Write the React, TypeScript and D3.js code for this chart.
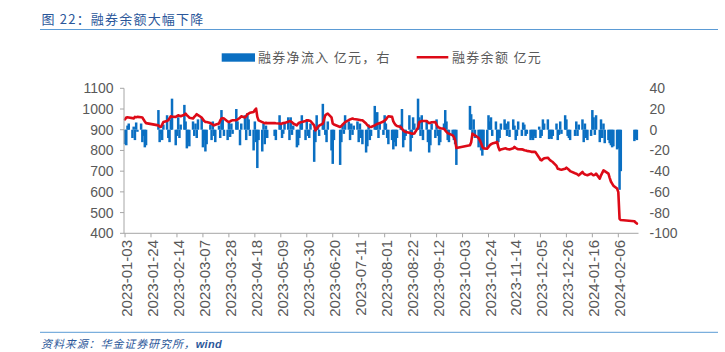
import React from "react";
import * as d3 from "d3";

// 融券净流入（亿元，右轴）— one value per trading day
const netFlow: number[] = [
  // 2023-01
  -14, -15, 4, 6, -8, 3, -10, 7, -2, 6, -12, -6, -17, -15, 19, -12,
  // 2023-02
  -4, -10, 5, 14, -8, -12, 10, 30, -15, -6, 12, -8, 5, 24, 8, -18, -12, -16, 8, -6,
  // 2023-03
  6, -8, 10, 12, -17, -10, -21, -14, 5, -10, 8, -6, -12, 4, -8, 19, 10, -6, -10, 8, -7, 6, -4,
  // 2023-04
  20, 8, -15, 6, 14, -10, 16, 10, -6, -20, 8, -12, -37, -10, -21, 6, -14, 4, -8,
  // 2023-05
  -6, -10, 14, 5, -8, -4, 6, 12, -10, 12, -5, 4, -17, -15, -8, 6, 14, -10, 9, -6,
  // 2023-06
  -8, 6, -31, -12, 14, 4, -6, 25, 10, -5, -12, 8, -20, -33, -10, -34, -12, 5, -4, 14,
  // 2023-07
  8, -10, 6, -5, 4, 8, -12, 6, -8, -14, -22, -16, 5, -10, -6, 23, 10, 17, -8, 6, -5,
  // 2023-08
  14, 6, -8, -14, -10, -19, -12, -16, -8, 5, 20, -17, -10, -6, 14, -21, -8, 12, 6, 30, 12, -6, 14,
  // 2023-09
  -10, 8, -12, -22, -15, 6, -8, 10, -6, -15, -12, 6, 19, 8, -10, -12, -6, -10, -14, -34,
  // 2023-10
  23, 15, -6, 10, -8, -17, -12, -20, -25, -18, -17, 14, 8, 12, -6, 8, -14,
  // 2023-11
  -12, -8, 6, 10, 6, -6, 8, -7, 10, 4, -10, -6, 8, -6, 7, 5, -6, -4, -10, -8, -10, -6,
  // 2023-12
  -8, 3, -8, -6, 10, 6, 10, -9, -8, -9, -6, 6, -10, -5, 8, -4, 14, 10, -6, -8, -10,
  // 2024-01
  -6, 8, -6, 5, 10, -12, 6, -8, -10, -6, 19, 12, -5, 14, -12, 10, -8, 6, -13, -10, -13, -15,
  // 2024-02
  -17, -16, -19, -18, -58, -40, -11, -9, -10,
];

// 融券余额（亿元，左轴）— one value per trading day
const balance: number[] = [
  // 2023-01
  950, 959, 960, 959, 956, 954, 962, 960, 962, 960, 959, 949, 940, 932, 921, 915,
  // 2023-02
  913, 925, 937, 942, 946, 955, 965, 963, 962, 966, 970, 967, 965, 972, 978, 970, 965, 958, 954, 962,
  // 2023-03
  968, 975, 970, 959, 950, 942, 938, 937, 932, 928, 925, 921, 924, 930, 945, 954, 956, 954, 940, 937, 940, 944, 946,
  // 2023-04
  946, 949, 958, 965, 959, 966, 975, 978, 982, 986, 995, 1002, 962, 945, 937, 934, 932, 933, 932,
  // 2023-05
  932, 931, 930, 928, 930, 932, 933, 938, 942, 940, 937, 930, 921, 930, 934, 936, 937, 942, 946, 945,
  // 2023-06
  944, 942, 921, 897, 905, 913, 920, 930, 950, 970, 975, 978, 960, 930, 925, 913, 918, 925, 930, 937,
  // 2023-07
  946, 950, 952, 954, 952, 949, 948, 947, 946, 946, 930, 922, 918, 913, 913, 921, 925, 928, 930, 932, 940,
  // 2023-08
  945, 949, 958, 965, 962, 940, 930, 922, 918, 913, 905, 897, 892, 889, 885, 883, 881, 881, 882, 910, 937, 940, 942,
  // 2023-09
  942, 942, 936, 932, 934, 936, 937, 925, 913, 910, 907, 905, 897, 890, 884, 881, 873, 865, 850, 812,
  // 2023-10
  825, 840, 881, 876, 873, 860, 849, 835, 818, 810, 809, 817, 825, 830, 833, 838, 841,
  // 2023-11
  815, 801, 805, 809, 810, 807, 806, 805, 810, 817, 812, 808, 806, 805, 804, 801, 800, 798, 795, 793, 794, 793,
  // 2023-12
  792, 765, 755, 752, 758, 762, 765, 758, 752, 748, 744, 725, 712, 710, 708, 707, 712, 717, 712, 707, 700,
  // 2024-01
  690, 688, 684, 680, 696, 688, 684, 682, 680, 688, 684, 680, 682, 688, 664, 680, 692, 704, 700, 688, 668, 650,
  // 2024-02
  640, 630, 616, 599, 470, 464, 458, 452, 447,
];

// market holidays (non-trading weekdays)
const holidays: string[] = [
  "2023-01-23", "2023-01-24", "2023-01-25", "2023-01-26", "2023-01-27",
  "2023-04-05", "2023-05-01", "2023-05-02", "2023-05-03",
  "2023-06-22", "2023-06-23", "2023-09-29",
  "2023-10-02", "2023-10-03", "2023-10-04", "2023-10-05", "2023-10-06",
  "2024-01-01", "2024-02-09", "2024-02-12", "2024-02-13", "2024-02-14", "2024-02-15", "2024-02-16",
];

const tickLabels: string[] = [
  "2023-01-03", "2023-01-24", "2023-02-14", "2023-03-07", "2023-03-28", "2023-04-18",
  "2023-05-09", "2023-05-30", "2023-06-20", "2023-07-11", "2023-08-01", "2023-08-22",
  "2023-09-12", "2023-10-03", "2023-10-24", "2023-11-14", "2023-12-05", "2023-12-26",
  "2024-01-16", "2024-02-06",
];

const leftTicks = [400, 500, 600, 700, 800, 900, 1000, 1100];
const rightTicks = [-100, -80, -60, -40, -20, 0, 20, 40];

const parse = d3.utcParse("%Y-%m-%d");
const fmt = d3.utcFormat("%Y-%m-%d");

function tradingDays(start: string, end: string): Date[] {
  const hs = new Set(holidays);
  const days = d3.utcDay.range(parse(start)!, d3.utcDay.offset(parse(end)!, 1));
  return days.filter((d) => {
    const w = d.getUTCDay();
    return w !== 0 && w !== 6 && !hs.has(fmt(d));
  });
}

const W = 725;
const H = 352;
const FONT = "'Liberation Sans', Arial, sans-serif";
const CJK = "'Noto Sans CJK SC', 'Liberation Sans', sans-serif";

export default function App() {
  const dates = tradingDays("2023-01-03", "2024-02-21");
  const n = Math.min(dates.length, netFlow.length, balance.length);
  const data = d3.range(n).map((i) => ({ date: dates[i], net: netFlow[i], bal: balance[i] }));

  const x = d3
    .scaleUtc()
    .domain([parse("2023-01-02")!, parse("2024-02-22")!])
    .range([123.8, 638.1]);
  const yL = d3.scaleLinear().domain([400, 1100]).range([233.3, 88.3]);
  const yR = d3.scaleLinear().domain([-100, 40]).range([233.3, 88.3]);

  const line = d3
    .line<{ date: Date; bal: number }>()
    .x((d) => x(d.date))
    .y((d) => yL(d.bal));

  const bw = 2.5;
  const axisColor = "#A6A6A6";
  const textColor = "#595959";

  return (
    <svg
      width={W}
      height={H}
      style={{ position: "absolute", left: 0, top: 0, background: "#fff" }}
    >
      {/* title */}
      <text x={41.5} y={24} fontFamily={CJK} fontSize={13} fill="#2B579A" letterSpacing={1.2}>
        图 22：融券余额大幅下降
      </text>
      <line x1={40} x2={718} y1={29.5} y2={29.5} stroke="#5B9BD5" strokeWidth={1} />

      {/* legend */}
      <rect x={221.7} y={53.3} width={33.3} height={8.4} fill="#0A6FC2" />
      <text x={258} y={62} fontFamily={CJK} fontSize={13} fill={textColor} letterSpacing={1.3}>
        融券净流入 亿元，右
      </text>
      <line x1={416.7} x2={448.3} y1={57.3} y2={57.3} stroke="#DD0A17" strokeWidth={2.5} />
      <text x={452} y={62} fontFamily={CJK} fontSize={13} fill={textColor} letterSpacing={1.3}>
        融券余额 亿元
      </text>

      {/* bars */}
      <g>
        {data.map((d, i) => (
          <rect
            key={i}
            x={x(d.date) - bw / 2}
            y={Math.min(yR(0), yR(d.net))}
            width={bw}
            height={Math.abs(yR(d.net) - yR(0))}
            fill="#0A6FC2"
          />
        ))}
      </g>

      {/* line */}
      <path
        d={line(data) || ""}
        fill="none"
        stroke="#DD0A17"
        strokeWidth={2.6}
        strokeLinejoin="round"
        strokeLinecap="round"
      />

      {/* left axis */}
      <line x1={124} x2={124} y1={yL(1100)} y2={yL(400)} stroke={axisColor} />
      {leftTicks.map((t) => (
        <g key={t}>
          <line x1={120} x2={124} y1={yL(t)} y2={yL(t)} stroke={axisColor} />
          <text
            x={113.5}
            y={yL(t)}
            dy="0.36em"
            textAnchor="end"
            fontFamily={FONT}
            fontSize={14}
            fill={textColor}
          >
            {t}
          </text>
        </g>
      ))}

      {/* right axis labels */}
      {rightTicks.map((t) => (
        <text
          key={t}
          x={649.5}
          y={yR(t)}
          dy="0.36em"
          textAnchor="start"
          fontFamily={FONT}
          fontSize={14}
          fill={textColor}
        >
          {t}
        </text>
      ))}

      {/* bottom axis */}
      <line x1={124} x2={638.5} y1={233.3} y2={233.3} stroke={axisColor} />
      {tickLabels.map((t) => {
        const px = x(parse(t)!);
        return (
          <g key={t}>
            <line x1={px} x2={px} y1={233.3} y2={237.3} stroke={axisColor} />
            <text
              transform={`translate(${px + 1.5},240) rotate(-90)`}
              textAnchor="end"
              dominantBaseline="central"
              fontFamily={FONT}
              fontSize={15}
              fill={textColor}
            >
              {t}
            </text>
          </g>
        );
      })}

      {/* footer */}
      <line x1={40} x2={718} y1={332.3} y2={332.3} stroke="#5B9BD5" strokeWidth={1} />
      <text x={41} y={348} fontFamily={CJK} fontSize={11} fill="#2B579A" fontStyle="italic" letterSpacing={0.9}>
        资料来源：华金证券研究所，
        <tspan fontFamily={FONT} fontWeight="bold" letterSpacing={0.3}>wind</tspan>
      </text>
    </svg>
  );
}
